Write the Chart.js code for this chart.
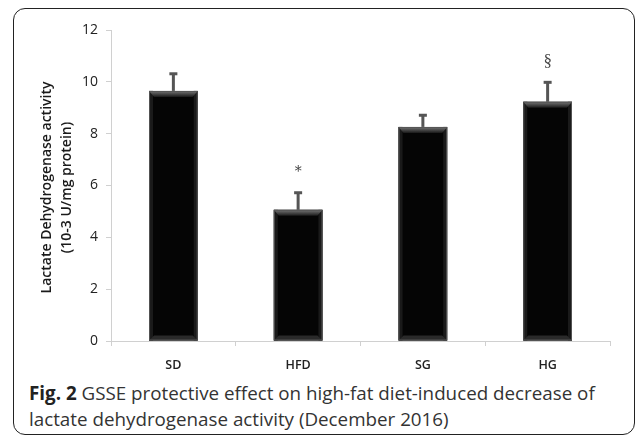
<!DOCTYPE html>
<html>
<head>
<meta charset="utf-8">
<script src="https://cdn.jsdelivr.net/npm/chart.js@4.4.0/dist/chart.umd.min.js"></script>
<style>
  html, body { margin: 0; padding: 0; background: #fff; }
  #page { position: relative; width: 637px; height: 438px; overflow: hidden; }
  #frame {
    position: absolute; left: 13px; top: 8px; width: 620px; height: 425px;
    border: 1.5px solid #222; border-radius: 12px;
  }
  #wrap { position: absolute; left: 0; top: 0; width: 637px; height: 372px; }
  #caption {
    position: absolute; left: 29px; top: 380px; width: 595px;
    font-family: "Open Sans", sans-serif; font-size: 18.8px; line-height: 26px; color: #333;
  }
  #caption b { color: #222; }
</style>
</head>
<body>
<div id="page">
  <div id="frame"></div>
  <div id="wrap"><canvas id="chart-ldh"></canvas></div>
  <div id="caption"><b>Fig. 2</b> GSSE protective effect on high-fat diet-induced decrease of lactate dehydrogenase activity (December 2016)</div>
</div>
<script>
const groups = ['SD', 'HFD', 'SG', 'HG'];
const ldhMean = [9.65, 5.06, 8.26, 9.23];
const ldhSem = [0.68, 0.68, 0.47, 0.77];
const marks = ['', '*', '', '§'];
const yTicks = [0, 2, 4, 6, 8, 10, 12];
const yTitle = ['Lactate Dehydrogenase activity', '(10-3 U/mg protein)'];

const errorBars = {
  id: 'errorBars',
  afterDatasetsDraw(chart) {
    const { ctx, scales: { y } } = chart;
    const meta = chart.getDatasetMeta(0);
    ctx.save();
    meta.data.forEach((bar, i) => {
      const left = bar.x - bar.width / 2, right = bar.x + bar.width / 2;
      const top = bar.y, bottom = bar.base;
      // bevel look
      ctx.fillStyle = '#1a1a1a';
      ctx.fillRect(left, top, 4, bottom - top);
      ctx.fillRect(right - 4, top, 4, bottom - top);
      const g = ctx.createLinearGradient(0, top, 0, top + 6);
      g.addColorStop(0, '#777');
      g.addColorStop(1, '#1a1a1a');
      ctx.fillStyle = g;
      ctx.beginPath();
      ctx.moveTo(left, top); ctx.lineTo(right, top);
      ctx.lineTo(right - 5, top + 6); ctx.lineTo(left + 5, top + 6);
      ctx.closePath(); ctx.fill();
      ctx.fillStyle = '#2a2a2a';
      ctx.beginPath();
      ctx.moveTo(left, bottom); ctx.lineTo(right, bottom);
      ctx.lineTo(right - 5, bottom - 5); ctx.lineTo(left + 5, bottom - 5);
      ctx.closePath(); ctx.fill();
      ctx.strokeStyle = '#555';
      ctx.lineWidth = 1;
      ctx.strokeRect(left + 0.5, top + 0.5, bar.width - 1, bottom - top - 1);

      // error bar
      const yTop = y.getPixelForValue(ldhMean[i] + ldhSem[i]);
      ctx.strokeStyle = '#555';
      ctx.lineWidth = 3;
      ctx.beginPath();
      ctx.moveTo(bar.x, top);
      ctx.lineTo(bar.x, yTop);
      ctx.stroke();
      ctx.fillStyle = '#555';
      ctx.fillRect(bar.x - 4, yTop - 1, 8, 3);

      if (marks[i]) {
        ctx.fillStyle = '#444';
        ctx.textAlign = 'center';
        ctx.textBaseline = 'middle';
        ctx.font = marks[i] === '*' ? '14px "DejaVu Serif", serif' : '17px "Liberation Serif", serif';
        ctx.fillText(marks[i], bar.x, yTop - 20);
      }
    });
    ctx.restore();
  },
  afterDraw(chart) {
    const { ctx, chartArea } = chart;
    const cy = (chartArea.top + chartArea.bottom) / 2 + 2;
    ctx.save();
    ctx.translate(47, cy);
    ctx.rotate(-Math.PI / 2);
    ctx.textAlign = 'center';
    ctx.textBaseline = 'middle';
    ctx.fillStyle = '#1a1a1a';
    ctx.font = '600 14px "Open Sans", sans-serif';
    ctx.fillText(yTitle[0], 0, 0);
    ctx.fillText(yTitle[1], 0, 20);
    ctx.restore();
  }
};

new Chart(document.getElementById('chart-ldh'), {
  type: 'bar',
  data: {
    labels: groups,
    datasets: [{
      data: ldhMean,
      backgroundColor: '#050505',
      borderWidth: 0,
      categoryPercentage: 1,
      barPercentage: 0.39
    }]
  },
  options: {
    responsive: true,
    maintainAspectRatio: false,
    animation: false,
    layout: { padding: { top: 30, right: 27, left: 0, bottom: 0 } },
    plugins: { legend: { display: false }, tooltip: { enabled: false } },
    scales: {
      x: {
        afterFit: s => { s.height = 31; },
        grid: { display: true, drawOnChartArea: false, tickLength: 5, color: '#d0d0d0' },
        border: { color: '#d0d0d0' },
        ticks: { color: '#222', padding: 12, font: { family: 'Open Sans', size: 12.5, weight: 600 } }
      },
      y: {
        min: 0, max: 12,
        afterFit: s => { s.width = 111; },
        afterBuildTicks: s => { s.ticks = yTicks.map(v => ({ value: v })); },
        grid: { display: true, drawOnChartArea: false, tickLength: 5, color: '#d0d0d0' },
        border: { color: '#d0d0d0' },
        ticks: { color: '#222', padding: 8, font: { family: 'Open Sans', size: 14 } }
      }
    }
  },
  plugins: [errorBars]
});
</script>
</body>
</html>
